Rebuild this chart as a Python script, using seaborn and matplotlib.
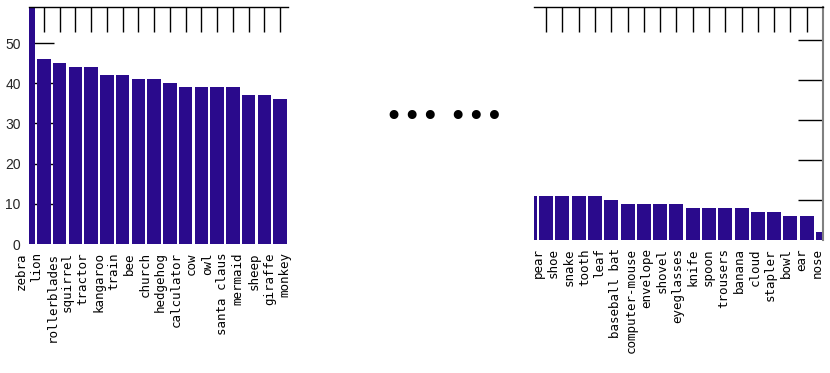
import numpy as np
import matplotlib
matplotlib.use("Agg")
import matplotlib.pyplot as plt
import seaborn as sns

# --- Data ---
left_words = ['zebra', 'lion', 'rollerblades', 'squirrel', 'tractor', 'kangaroo',
              'train', 'bee', 'church', 'hedgehog', 'calculator', 'cow', 'owl',
              'santa claus', 'mermaid', 'sheep', 'giraffe', 'monkey']
left_counts = [62, 46, 45, 44, 44, 42, 42, 41, 41, 40, 39, 39, 39, 39, 37, 37, 36, 36]

right_words = ['pear', 'shoe', 'snake', 'tooth', 'leaf', 'baseball bat',
               'computer-mouse', 'envelope', 'shovel', 'eyeglasses', 'knife',
               'spoon', 'trousers', 'banana', 'cloud', 'stapler', 'bowl', 'ear', 'nose']
right_counts = [11, 11, 11, 11, 11, 10, 9, 9, 9, 9, 8, 8, 8, 8, 7, 7, 6, 6, 2]

y_ticks = [0, 10, 20, 30, 40, 50]

BAR = '#2a0a8c'

sns.set_style("white")
plt.rcParams['font.family'] = ['Liberation Sans', 'DejaVu Sans']

fig = plt.figure(figsize=(8.3, 3.73), dpi=100)
ax_l = fig.add_axes([29 / 830, 1 - 244 / 373, 259 / 830, 237 / 373])
ax_r = fig.add_axes([534 / 830, 1 - 240 / 373, 289 / 830, 233 / 373])


def draw_panel(ax, words, counts, xlim, ylim, label_span, side):
    sns.barplot(x=list(range(len(words))), y=counts, color=BAR, width=0.86,
                saturation=1, ax=ax, linewidth=0, native_scale=True)
    ax.set_axisbelow(True)
    ax.set_xlim(*xlim)
    ax.set_ylim(*ylim)
    full = [i for i in range(len(words)) if xlim[0] + 0.4 < i < xlim[1] - 0.4]
    ax.set_xticks(full)
    ax.tick_params(axis='x', top=True, bottom=False, labelbottom=False,
                   direction='in', length=18, width=1, color='black')
    ax.set_yticks(y_ticks)
    if side == 'left':
        ax.tick_params(axis='y', left=True, right=False, direction='in',
                       length=18, width=1, labelsize=10, pad=6, color='black')
    else:
        ax.tick_params(axis='y', left=False, right=True, labelleft=False,
                       direction='in', length=18, width=1, color='black')
    # the zero tick sits under the bars in the reference
    t0 = ax.yaxis.get_major_ticks()[0]
    t0.tick1line.set_visible(False)
    t0.tick2line.set_visible(False)
    ax.set_xlabel('')
    ax.set_ylabel('')
    for s in ['bottom', 'left', 'right']:
        ax.spines[s].set_visible(False)
    ax.spines['top'].set_color('black')
    ax.spines['top'].set_linewidth(1)
    if side == 'right':
        ax.spines['right'].set_visible(True)
        ax.spines['right'].set_color('#808080')
        ax.spines['right'].set_linewidth(1.5)
    # word labels, vertical, hanging under the axis
    xs = np.linspace(label_span[0], label_span[1], len(words))
    for x, w in zip(xs, words):
        ax.text(x, -0.035, w, transform=ax.transAxes, rotation=90,
                ha='center', va='top', fontsize=9, family='DejaVu Sans Mono',
                color='black')


draw_panel(ax_l, left_words, left_counts, (0.05, 16.5), (0, 59),
           (-0.031, 0.988), 'left')
draw_panel(ax_r, right_words, right_counts, (0.25, 18.0), (0, 58.3),
           (0.014, 0.979), 'right')

fig.text(444 / 830, 1 - 118 / 373, '\u2022\u2022\u2022 \u2022\u2022\u2022',
         ha='center', va='center', fontsize=22, color='black',
         family='DejaVu Sans')

fig.savefig('out.png', dpi=100)
